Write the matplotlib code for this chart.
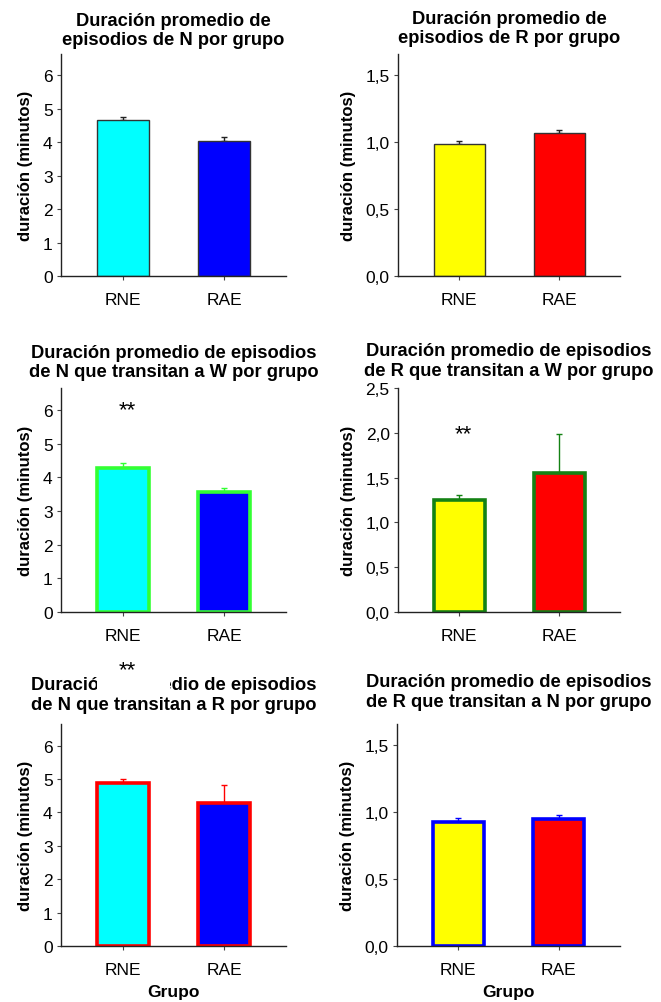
import matplotlib
matplotlib.use("Agg")
import matplotlib.pyplot as plt
from matplotlib.ticker import FuncFormatter
from matplotlib.patches import Rectangle

plt.rcParams['font.family'] = ['Liberation Sans', 'DejaVu Sans']

grupos = ["RNE", "RAE"]

titles = [
    "Duración promedio de\nepisodios de N por grupo",
    "Duración promedio de\nepisodios de R por grupo",
    "Duración promedio de episodios\nde N que transitan a W por grupo",
    "Duración promedio de episodios\nde R que transitan a W por grupo",
    "Duración promedio de episodios\nde N que transitan a R por grupo",
    "Duración promedio de episodios\nde R que transitan a N por grupo",
]

# medias y error estandar (minutos)
n_total = [4.65, 4.03]
n_total_err = [0.11, 0.11]
r_total = [0.985, 1.063]
r_total_err = [0.025, 0.028]
n_to_w = [4.28, 3.55]
n_to_w_err = [0.15, 0.14]
r_to_w = [1.245, 1.553]
r_to_w_err = [0.065, 0.43]
n_to_r = [4.89, 4.27]
n_to_r_err = [0.12, 0.55]
r_to_n = [0.925, 0.95]
r_to_n_err = [0.028, 0.03]

values = [n_total, r_total, n_to_w, r_to_w, n_to_r, r_to_n]
errors = [n_total_err, r_total_err, n_to_w_err, r_to_w_err, n_to_r_err, r_to_n_err]

fills_n = ["#00FFFF", "#0000FF"]
fills_r = ["#FFFF00", "#FF0000"]
fills = [fills_n, fills_r, fills_n, fills_r, fills_n, fills_r]
edges = ["#333333", "#333333", "#33FF33", "#148214", "#FF0000", "#0000FF"]
ecolors = ["#222222", "#222222", "#33FF33", "#148214", "#FF0000", "#0000FF"]
edge_w = [1.0, 1.0, 2.6, 2.6, 2.6, 2.6]

yticks = [
    [0, 1, 2, 3, 4, 5, 6],
    [0, 0.5, 1.0, 1.5],
    [0, 1, 2, 3, 4, 5, 6],
    [0, 0.5, 1.0, 1.5, 2.0, 2.5],
    [0, 1, 2, 3, 4, 5, 6],
    [0, 0.5, 1.0, 1.5],
]
ytop = [6.63, 1.655, 6.65, 2.5, 6.65, 1.657]
comma = [False, True, False, True, False, True]

W, H = 661, 1003
boxes = [  # left, right, top, bottom in px
    (61, 286, 55, 277),
    (398, 620, 55, 277),
    (61, 286, 389, 613),
    (398, 620, 389, 613),
    (61, 286, 725, 947),
    (397, 620, 725, 947),
]
pads = [7, 8.5, 8.5, 9.5, 11, 13]

fig = plt.figure(figsize=(W / 100, H / 100), dpi=100)

axes = []
for i in range(6):
    l, r, t, b = boxes[i]
    ax = fig.add_axes([l / W, 1 - b / H, (r - l) / W, (b - t) / H])
    axes.append(ax)
    x = [1, 2]
    ax.errorbar(x, values[i], yerr=[[0, 0], errors[i]], fmt='none',
                ecolor=ecolors[i], elinewidth=1, capsize=2.5, capthick=1, zorder=1)
    ax.bar(x, values[i], width=0.51, color=fills[i], edgecolor=edges[i],
           linewidth=edge_w[i], zorder=2)
    ax.set_xlim(0.39, 2.61)
    ax.set_ylim(0, ytop[i])
    ax.set_xticks(x)
    ax.set_xticklabels(grupos)
    ax.set_yticks(yticks[i])
    if comma[i]:
        ax.yaxis.set_major_formatter(FuncFormatter(lambda v, p: f"{v:.1f}".replace(".", ",")))
    for s in ["top", "right"]:
        ax.spines[s].set_visible(False)
    for s in ["left", "bottom"]:
        ax.spines[s].set_color("#222222")
        ax.spines[s].set_linewidth(1)
    ax.tick_params(axis='both', direction='out', length=3, width=0.8,
                   color="#444444", labelsize=12.5, pad=3)
    ax.tick_params(axis='x', pad=8.5)
    ax.set_ylabel("duración (minutos)", fontsize=12, fontweight='bold', labelpad=7)
    ax.set_title(titles[i], fontsize=13.2, fontweight='bold', pad=pads[i], linespacing=1.2)
    if i >= 4:
        ax.set_xlabel("Grupo", fontsize=12.5, fontweight='bold', labelpad=5)

# significancia
axes[2].text(1.04, 6.0, "**", ha='center', va='center', fontsize=16)
axes[3].text(1.04, 1.99, "**", ha='center', va='center', fontsize=16)

# caja blanca con ** sobre el titulo del panel inferior izquierdo
fig.patches.append(Rectangle((97 / W, 1 - 695 / H), 73 / W, 40 / H,
                             transform=fig.transFigure, facecolor='white',
                             edgecolor='none', zorder=5))
fig.text(127 / W, 1 - 671 / H, "**", ha='center', va='center', fontsize=16, zorder=6)

fig.savefig("out.png", dpi=100)
